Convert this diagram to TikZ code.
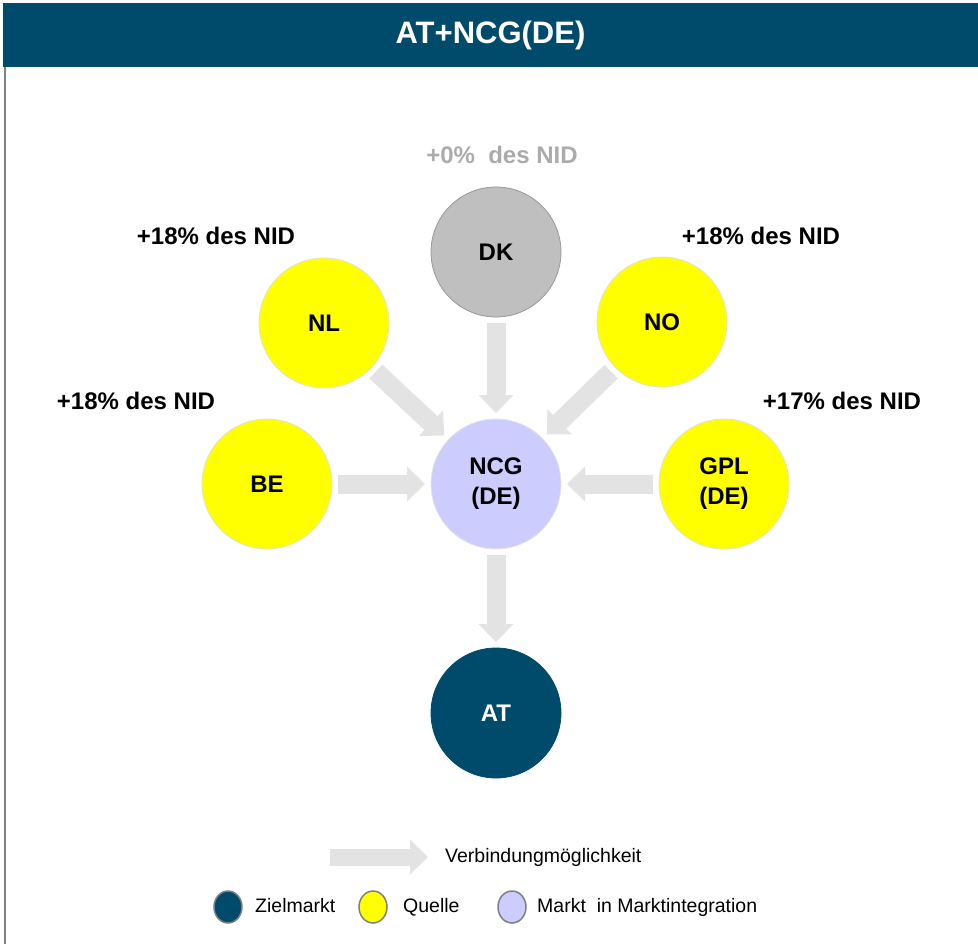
\documentclass[tikz,border=0pt]{standalone}
\usepackage{fontspec}
\setmainfont{Liberation Sans}
\usepackage{tikz}
\usetikzlibrary{arrows.meta,positioning,shapes.geometric}
\usepackage{xcolor}
\definecolor{zielblau}{HTML}{004A6B}
\definecolor{quellgelb}{HTML}{FFFF00}
\definecolor{integlila}{HTML}{CCCCFF}
\definecolor{dkgrau}{HTML}{BFBFBF}
\definecolor{pfeilgrau}{HTML}{E3E3E3}

\begin{document}
\begin{tikzpicture}[
    x=1pt, y=-1pt,
    market/.style={
      circle, minimum size=130pt, inner sep=0pt, outer sep=0pt,
      font=\fontsize{24}{30}\selectfont\bfseries, align=center,
      line width=0.8pt
    },
    quelle/.style={market, fill=quellgelb, draw=black!12},
    integ/.style={market, fill=integlila, draw=black!10},
    ziel/.style={market, fill=zielblau, draw=zielblau, text=white},
    leer/.style={market, fill=dkgrau, draw=black!40},
    link/.style={
      pfeilgrau, line width=19pt,
      -{Triangle[width=34pt,length=18pt]},
      shorten <=6pt, shorten >=6pt
    },
    pct/.style={font=\fontsize{24}{27}\selectfont\bfseries},
    legdot/.style={
      ellipse, minimum width=28pt, minimum height=32pt, inner sep=0pt,
      draw=black!50, line width=1.5pt
    },
    legtext/.style={
      font=\fontsize{19.5}{23}\selectfont, anchor=west, inner xsep=0pt,
      text height=14pt, text depth=4pt
    }
  ]
  \useasboundingbox (0,0) rectangle (978,944);

  % --- Kopfzeile ---
  \node[fill=zielblau, text=white, minimum width=975pt, minimum height=64pt,
    inner sep=0pt, font=\fontsize{31}{35}\selectfont\bfseries]
    (title) at (490.5,35) {AT+NCG(DE)};
  \draw[black!50, line width=2pt] (5,67) -- (5,944);

  % --- Maerkte ---
  \node[integ] (NCG) at (496,484) {NCG\\(DE)};
  \node[leer] (DK) at (496,252) {DK};
  \node[quelle] (NL) at (324,323) {NL};
  \node[quelle] (NO) at (662,322) {NO};
  \node[quelle] (BE) at (267,484) {BE};
  \node[quelle] (GPL) at (724,484) {GPL\\(DE)};
  \node[ziel] (AT) at (496,713) {AT};

  % --- Anteile ---
  \node[pct, text=black!33] (pDK) at (502,155) {+0\%\ \ des NID};
  \node[pct] (pNL) at (216,236) {+18\%\ des NID};
  \node[pct] (pNO) at (761,236) {+18\%\ des NID};
  \node[pct] (pBE) at (136,401) {+18\%\ des NID};
  \node[pct] (pGPL) at (842,401) {+17\%\ des NID};

  % --- Verbindungen ---
  \draw[link] (DK) -- (NCG);
  \draw[link] (NL) -- (NCG);
  \draw[link] (NO) -- (NCG);
  \draw[link] (BE) -- (NCG);
  \draw[link] (GPL) -- (NCG);
  \draw[link] (NCG) -- (AT);

  % --- Legende ---
  \coordinate (legA) at (330,857);
  \coordinate (legB) at (428,857);
  \draw[link, line width=17pt, shorten <=0pt, shorten >=0pt] (legA) -- (legB);
  \node[legtext] (tVerb) at (445,857) {Verbindungmöglichkeit};

  \node[legdot, fill=zielblau] (dZiel) at (228,907) {};
  \node[legtext] (tZiel) at (255,907) {Zielmarkt};
  \node[legdot, fill=quellgelb] (dQuelle) at (373,907) {};
  \node[legtext] (tQuelle) at (403,907) {Quelle};
  \node[legdot, fill=integlila] (dInteg) at (512,907) {};
  \node[legtext] (tInteg) at (537,907) {Markt\ \ in Marktintegration};
\end{tikzpicture}
\end{document}
